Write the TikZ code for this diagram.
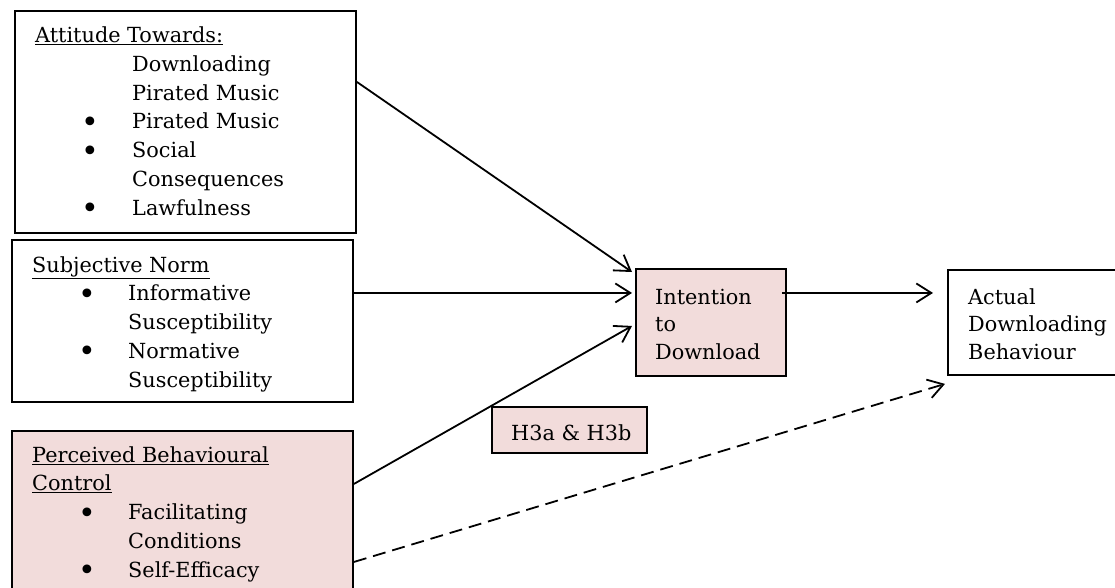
\documentclass[tikz,border=0pt]{standalone}
\usepackage{fontspec}
\setmainfont{DejaVu Serif}
\usetikzlibrary{arrows.meta,positioning}
\definecolor{pinkfill}{RGB}{242,220,219}
\newcommand\blt[1][96pt]{\makebox[#1][l]{\hspace*{46pt}\raisebox{-3.5pt}{\fontsize{30}{30}\selectfont\textbullet}}}
\newcommand\ind[1][96pt]{\hspace*{#1}}

\begin{document}
\begin{tikzpicture}[x=1pt,y=-1pt,inner sep=0pt]
  \clip(0,0)rectangle(1115,588);
  \tikzstyle{b}=[rectangle,draw,line width=1.9pt,anchor=north west]
  \tikzstyle{t}=[anchor=base west,align=left,font=\fontsize{20.8}{28.7}\selectfont]
  \node[b,minimum width=341,minimum height=222](att)at(14,10){};
  \node[b,minimum width=341,minimum height=162](sn)at(11,239){};
  \node[b,fill=pinkfill,minimum width=341,minimum height=165](pbc)at(11,430){};
  \node[b,fill=pinkfill,minimum width=150,minimum height=107](int)at(635,268){};
  \node[b,minimum width=178,minimum height=105](act)at(947,269){};
  \node[b,fill=pinkfill,minimum width=155,minimum height=46](hyp)at(491,406){};
  % base west is the last line's baseline
  \node[t](attT)at(35,215){\underline{Attitude Towards:}\\\ind[97pt]Downloading\\\ind[97pt]Pirated Music\\\blt[97pt]Pirated Music\\\blt[97pt]Social\\\ind[97pt]Consequences\\\blt[97pt]Lawfulness};
  \node[t](snT)at(32,387){\underline{Subjective Norm}\\\blt Informative\\\ind Susceptibility\\\blt Normative\\\ind Susceptibility};
  \node[t](pbcT)at(32,577){\underline{Perceived Behavioural}\\\underline{Control}\\\blt Facilitating\\\ind Conditions\\\blt Self-Efficacy};
  \node[t,font=\fontsize{20.8}{27.5}\selectfont](intT)at(655,359){Intention\\to\\Download};
  \node[t,font=\fontsize{20.8}{27.5}\selectfont](actT)at(968,359){Actual\\Downloading\\Behaviour};
  \node[t](hypT)at(511,440){H3a \& H3b};
  \tikzstyle{e}=[-{Straight Barb[length=15pt,width=19pt]},line width=1.8pt]
  \draw[e]([yshift=40pt]att.east)--([shift={(-3,4)}]int.north west);
  \draw[e]([yshift=28pt]sn.east)--([xshift=-3pt,yshift=29.5pt]int.west);
  \draw[e]([yshift=29.5pt]pbc.east)--([xshift=-3pt,yshift=-3.5pt]int.west);
  \draw[e]([xshift=-5pt,yshift=29.5pt]int.east)--([xshift=-14pt,yshift=29.5pt]act.west);
  \draw[e,dash pattern=on 13pt off 7pt]([yshift=-48.5pt]pbc.east)--([shift={(-2,8)}]act.south west);
\end{tikzpicture}
\end{document}
